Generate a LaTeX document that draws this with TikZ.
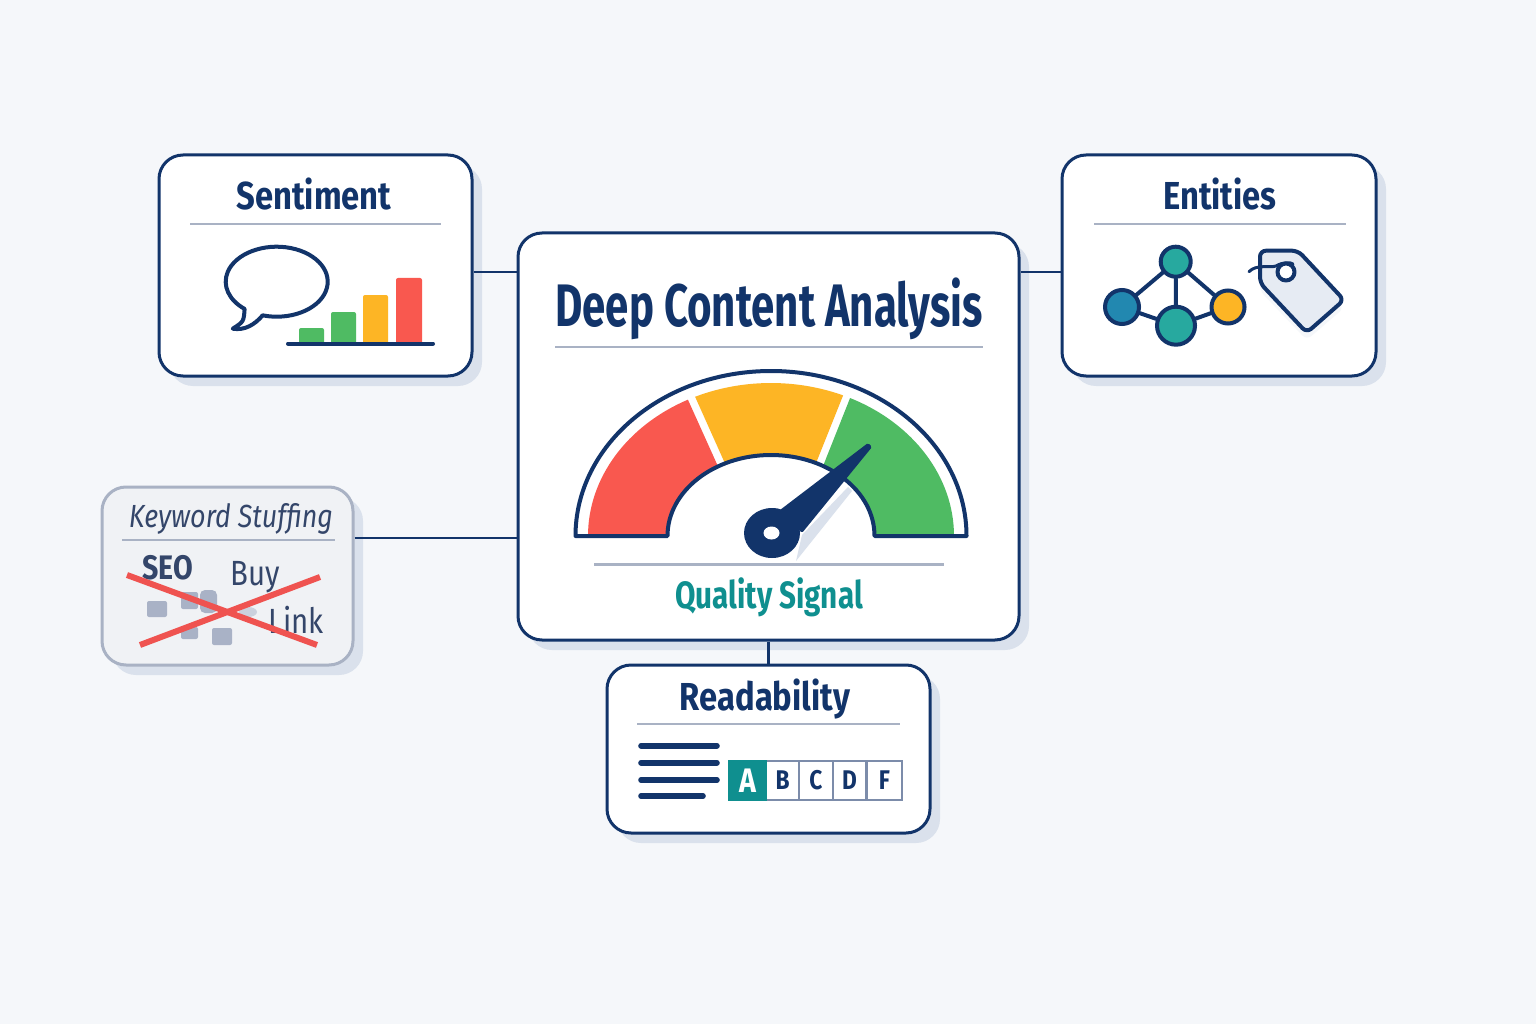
\documentclass[tikz,border=0pt]{standalone}
\usepackage{fontspec}
\usepackage{xcolor}
\usepackage{tikz}
\usetikzlibrary{calc,shadows}
\setmainfont{Fira Sans}[FakeStretch=0.78]
\newfontfamily\titlefont{Fira Sans}[FakeStretch=0.70]
\newfontfamily\cardfont{Fira Sans}[FakeStretch=0.84]
\definecolor{navy}{HTML}{12346A}
\definecolor{paper}{HTML}{F5F7FA}
\definecolor{cardshade}{HTML}{DAE1EC}
\definecolor{rulegrey}{HTML}{A9B2C4}
\definecolor{teal}{HTML}{0F8F8F}
\definecolor{tealfill}{HTML}{27A99F}
\definecolor{bluefill}{HTML}{2288B0}
\definecolor{redfill}{HTML}{F9584F}
\definecolor{yellowfill}{HTML}{FDB525}
\definecolor{greenfill}{HTML}{4FBB63}
\definecolor{crossred}{HTML}{EF5350}
\definecolor{slate}{HTML}{34466A}
\definecolor{chip}{HTML}{A9B2C6}
\definecolor{softfill}{HTML}{F0F2F5}
\definecolor{tagfill}{HTML}{E6EBF3}
\tikzset{
    card/.style={
        rectangle,
        rounded corners=24,
        draw=navy, line width=3pt,
        fill=white,
        general shadow={shadow xshift=10pt, shadow yshift=-10pt, fill=cardshade, rounded corners=24}
    },
    softcard/.style={
        card,
        draw=rulegrey, fill=softfill,
    },
    cardtitle/.style={font=\cardfont\bfseries\fontsize{39pt}{42pt}\selectfont, text=navy},
    link/.style={draw=navy, line width=2.2pt},
    titlerule/.style={draw=rulegrey, line width=2.2pt},
    icon/.style={draw=navy, line width=4pt, line join=round, line cap=round},
    graphnode/.style={circle, draw=navy, line width=4pt, inner sep=0pt},
    gradecell/.style={
        rectangle, draw=#1, line width=2.4pt, minimum width=33.5pt, minimum height=39pt,
        inner sep=0pt, font=\cardfont\bfseries\fontsize{27pt}{30pt}\selectfont, text=navy
    },
    gradecell/.default=chip!70!navy,
    chipbox/.style={fill=chip, rounded corners=2},
    stuffed/.style={font=\cardfont\fontsize{35pt}{38pt}\selectfont, text=slate},
}
\newcommand{\gaugeseg}[5]{%
    \fill[#1] (#2:183 and 153) arc[start angle=#2, end angle=#3, x radius=183, y radius=153]
        -- (#4:103.5 and 81) arc[start angle=#4, end angle=#5, x radius=103.5, y radius=81] -- cycle;
}
\begin{document}
\begin{tikzpicture}[x=1pt, y=-1pt]
\useasboundingbox (0,0) rectangle (1536,1024);
\fill[paper] (0,0) rectangle (1536,1024);

\node(Sen) at (315.5,265.5)[card, minimum width=313pt, minimum height=221pt]{};
\node(Ent) at (1219,265.5)[card, minimum width=314pt, minimum height=221pt]{};
\node(KW) at (227.5,576)[softcard, minimum width=251pt, minimum height=178pt]{};
\node(Main) at (768.5,436.5)[card, minimum width=501pt, minimum height=407pt]{};
\node(Read) at (768.5,749)[card, minimum width=323pt, minimum height=168pt]{};

\draw[link] ([yshift=-6.5pt]Sen.east) -- ([yshift=-6.5pt]Sen.east -| Main.west);
\draw[link] ([yshift=-6.5pt]Ent.west) -- ([yshift=-6.5pt]Ent.west -| Main.east);
\draw[link] ([yshift=38pt]KW.east) -- ([yshift=38pt]KW.east -| Main.west);
\draw[link] (Main.south) -- (Read.north);

% main card
\node(MainTitle) at (769,309)[font=\titlefont\bfseries\fontsize{60pt}{66pt}\selectfont, text=navy]{Deep Content Analysis};
\draw[titlerule] (555,347) -- (983,347);
\begin{scope}[shift={(771,536)}, y=1pt]
\gaugeseg{redfill}{180}{117}{120.8}{180}
\gaugeseg{yellowfill}{114.5}{66.8}{64.2}{116.4}
\gaugeseg{greenfill}{64.4}{0}{0}{59.8}
\draw[icon] (-195.5,0) arc[start angle=180, end angle=0, x radius=195.5, y radius=165]
    -- (103.5,0) arc[start angle=0, end angle=180, x radius=103.5, y radius=81] -- cycle;
\end{scope}
\fill[cardshade] (802,535) -- (848,487) -- (852,491) -- (796,561) -- cycle;
\fill[navy, rounded corners=1.5] (780,510) -- (868,443) -- (872,447) -- (802,533) -- cycle;
\fill[navy] (772,533) ellipse[x radius=28, y radius=25];
\fill[white] (771.5,533) ellipse[x radius=8, y radius=6.5];
\draw[titlerule] (594,564.5) -- (944,564.5);
\node(Quality) at (769,597)[font=\bfseries\fontsize{38pt}{42pt}\selectfont, text=teal]{Quality Signal};

% sentiment
\node(SenTitle) at (314,194)[cardtitle]{Sentiment};
\draw[titlerule] (190,224) -- (441,224);
\begin{scope}[shift={(276.7,281.7)}, y=1pt]
\draw[icon] (254:51 and 35) arc[start angle=254, end angle=591, x radius=51, y radius=35]
    .. controls (-33,-40) .. (-44,-47) .. controls (-32,-49) and (-22,-43) .. cycle;
\end{scope}
\foreach \barL/\barR/\barT/\barC in {299/324/328/greenfill, 331/356/312/greenfill, 363/388/295/yellowfill, 396/422/278/redfill}{
    \fill[\barC, rounded corners=2] (\barL,344) -- (\barL,\barT) -- (\barR,\barT) -- (\barR,344) -- cycle;
}
\draw[icon] (288,343.5) -- (433,343.5);

% entities
\node(EntTitle) at (1220,194)[cardtitle]{Entities};
\draw[titlerule] (1094,224) -- (1346,224);
\node(GTop) at (1175.7,261.7)[graphnode, fill=tealfill, minimum size=30pt]{};
\node(GLeft) at (1122,307)[graphnode, fill=bluefill, minimum size=34pt]{};
\node(GBot) at (1176,325.7)[graphnode, fill=tealfill, minimum size=38pt]{};
\node(GRight) at (1228,307)[graphnode, fill=yellowfill, minimum size=33pt]{};
\draw[icon] (GTop) -- (GLeft);
\draw[icon] (GTop) -- (GBot);
\draw[icon] (GTop) -- (GRight);
\draw[icon] (GLeft) -- (GBot);
\draw[icon] (GBot) -- (GRight);
\fill[paper, rounded corners=6] (1260,258) -- (1298,258) -- (1344,308) -- (1306.7,340) -- (1260,291) -- cycle;
\draw[icon, fill=tagfill, rounded corners=6] (1260,250.7) -- (1298,250.7) -- (1344,300) -- (1306.7,332.7) -- (1260,283) -- cycle;
\draw[icon, fill=white] (1286,272) circle[radius=8.5];
\draw[icon, line width=3pt] (1249,271.7) .. controls (1256,264) and (1270,268) .. (1276,266) .. controls (1283,262) and (1290,262) .. (1293,264);

% keyword stuffing
\node(KWTitle) at (231,519)[font=\cardfont\itshape\fontsize{32pt}{34pt}\selectfont, text=slate]{Keyword Stuffing};
\draw[titlerule] (122,540) -- (335,540);
\fill[chipbox] (147,601) rectangle (167,617);
\fill[chipbox] (181,592) rectangle (198,609);
\fill[chipbox] (181,627) rectangle (198,639);
\fill[chipbox] (212,628) rectangle (232,645);
\fill[chipbox, rounded corners=5] (200,590) rectangle (217,613);
\fill[chip!60!white] (248,612) ellipse[x radius=9, y radius=5];
\node(SEO) at (168,568)[stuffed, font=\cardfont\bfseries\fontsize{34pt}{36pt}\selectfont]{SEO};
\node(Buy) at (255,577)[stuffed]{Buy};
\node(Link) at (296,620)[stuffed]{Link};
\draw[crossred, line width=6pt] (127,575) -- (317,645);
\draw[crossred, line width=6pt] (320,577) -- (140,645);

% readability
\node(ReadTitle) at (765,699)[cardtitle]{Readability};
\draw[titlerule] (637,724) -- (900,724);
\foreach \lineY/\lineR in {745.7/717, 762.7/717, 780/717, 796/703}{
    \draw[navy, line width=5.6pt, line cap=round] (641,\lineY) -- (\lineR,\lineY);
}
\node(GradeB) at (782.5,780.5)[gradecell]{B};
\node(GradeC) at (816,780.5)[gradecell]{C};
\node(GradeD) at (849.5,780.5)[gradecell]{D};
\node(GradeF) at (884.5,780.5)[gradecell, minimum width=35pt]{F};
\node(GradeA) at (747.5,780.5)[gradecell=teal, fill=teal, text=white, minimum width=37pt, font=\cardfont\bfseries\fontsize{34pt}{36pt}\selectfont]{A};
\end{tikzpicture}
\end{document}
